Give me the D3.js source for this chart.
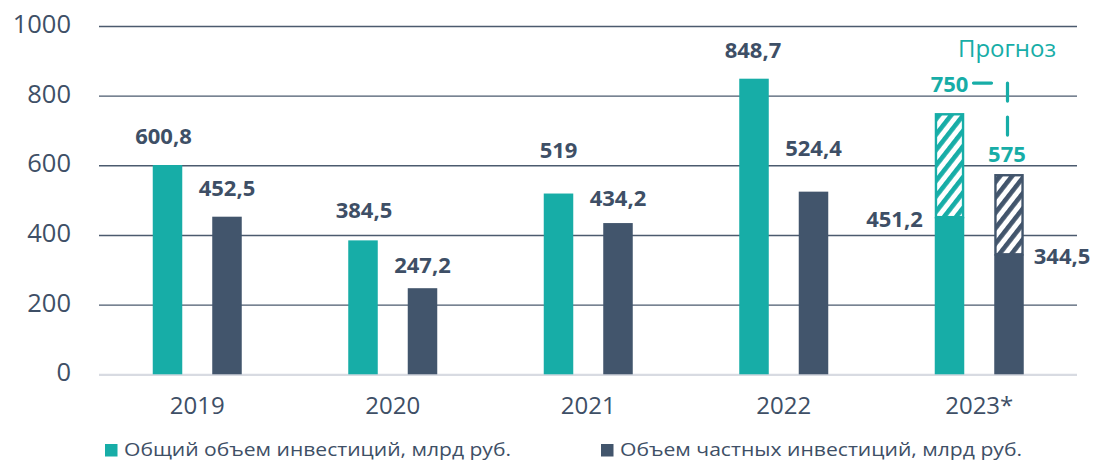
<!DOCTYPE html>
<html>
<head>
<meta charset="utf-8">
<script src="https://cdn.jsdelivr.net/npm/d3@7"></script>
<style>
  body { margin: 0; background: #fff; }
  svg { display: block; font-family: "Open Sans", sans-serif; }
</style>
</head>
<body>
<svg id="chart" width="1093" height="462"></svg>
<script>
// data
const years = ["2019", "2020", "2021", "2022", "2023*"];
const totalInvest = [600.8, 384.5, 519, 848.7, 451.2];
const privateInvest = [452.5, 247.2, 434.2, 524.4, 344.5];
const forecastTotal = [null, null, null, null, 750];
const forecastPrivate = [null, null, null, null, 575];
const yTicks = [0, 200, 400, 600, 800, 1000];
const seriesKeys = ["total", "private"];
const seriesNames = ["Общий объем инвестиций, млрд руб.", "Объем частных инвестиций, млрд руб."];
const forecastLabel = "Прогноз";

// label placement (dx from bar centre, dy from bar top to text centre)
const totalLabelPos = [[-4, -29], [1, -30], [0, -43], [-1, -28], ["left", 2]];
const privateLabelPos = [[0, -28], [0, -23], [0, -25], [0, -43], ["right", 2]];

const teal = "#17ada7";
const slate = "#42556c";
const textCol = "#3e4f66";

const svg = d3.select("#chart");

const x = d3.scaleBand().domain(years).range([99.5, 1077]);
const x1 = d3.scaleBand().domain(seriesKeys)
    .range([x.bandwidth() / 2 - 44.5, x.bandwidth() / 2 + 44.5])
    .paddingInner(0.504);
const y = d3.scaleLinear().domain([0, 1000]).range([374.3, 26]);

const fmt = v => String(v).replace(".", ",");

// hatch patterns
const defs = svg.append("defs");
[["hatch-total", teal], ["hatch-private", slate]].forEach(([id, c]) => {
    const p = defs.append("pattern")
        .attr("id", id)
        .attr("patternUnits", "userSpaceOnUse")
        .attr("width", 9.5).attr("height", 9.5)
        .attr("patternTransform", "rotate(38)");
    p.append("rect").attr("width", 9.5).attr("height", 9.5).attr("fill", "#fff");
    p.append("rect").attr("width", 4.6).attr("height", 9.5).attr("fill", c);
});

// y axis + gridlines
const yAxis = svg.append("g")
    .attr("transform", "translate(99,0)")
    .call(d3.axisLeft(y).tickValues(yTicks).tickFormat(d3.format("d")).tickSize(-978).tickPadding(28));
yAxis.select(".domain").remove();
yAxis.selectAll(".tick line")
    .attr("stroke", d => d === 0 ? "#d8dbe2" : "#4b5a6e")
    .attr("stroke-width", d => d === 0 ? 2.2 : 1.4);
yAxis.selectAll(".tick text")
    .attr("fill", textCol)
    .attr("font-size", 25.5)
    .attr("font-family", "'Open Sans', sans-serif")
    .attr("dy", "0.26em");

// x axis labels
const xAxis = svg.append("g")
    .attr("transform", "translate(0," + y(0) + ")")
    .call(d3.axisBottom(x).tickSize(0));
xAxis.select(".domain").remove();
xAxis.selectAll(".tick text")
    .attr("y", 40)
    .attr("dy", 0)
    .attr("fill", textCol)
    .attr("font-size", 24)
    .attr("font-family", "'Open Sans', sans-serif");

// bars
const groups = svg.append("g").selectAll("g")
    .data(years)
    .join("g")
    .attr("transform", d => "translate(" + x(d) + ",0)");

const series = [
    { key: "total", values: totalInvest, forecast: forecastTotal, color: teal, hatch: "hatch-total", pos: totalLabelPos },
    { key: "private", values: privateInvest, forecast: forecastPrivate, color: slate, hatch: "hatch-private", pos: privateLabelPos }
];

series.forEach(s => {
    groups.append("rect")
        .attr("x", (d, i) => x1(s.key))
        .attr("y", (d, i) => y(s.values[i]))
        .attr("width", x1.bandwidth())
        .attr("height", (d, i) => y(0) - y(s.values[i]))
        .attr("fill", s.color);

    // forecast part
    groups.filter((d, i) => s.forecast[i] != null)
        .append("rect")
        .attr("x", x1(s.key) + 1.2)
        .attr("y", d => y(s.forecast[years.indexOf(d)]) + 1.2)
        .attr("width", x1.bandwidth() - 2.4)
        .attr("height", d => y(s.values[years.indexOf(d)]) - y(s.forecast[years.indexOf(d)]) - 1.2)
        .attr("fill", "url(#" + s.hatch + ")")
        .attr("stroke", s.color)
        .attr("stroke-width", 2.4);

    // value labels
    groups.append("text")
        .attr("x", (d, i) => {
            const p = s.pos[i][0];
            if (p === "left") return x1(s.key) - 12;
            if (p === "right") return x1(s.key) + x1.bandwidth() + 10;
            return x1(s.key) + x1.bandwidth() / 2 + p;
        })
        .attr("y", (d, i) => y(s.values[i]) + s.pos[i][1] + 7.8)
        .attr("text-anchor", (d, i) => s.pos[i][0] === "left" ? "end" : s.pos[i][0] === "right" ? "start" : "middle")
        .attr("font-size", 22)
        .attr("font-weight", 700)
        .attr("fill", textCol)
        .text((d, i) => fmt(s.values[i]));
});

// forecast annotation
const last = years[years.length - 1];
const li = years.length - 1;
const tCx = x(last) + x1("total") + x1.bandwidth() / 2;
const pCx = x(last) + x1("private") + x1.bandwidth() / 2;
const ann = svg.append("g");
ann.append("text")
    .attr("x", tCx).attr("y", y(forecastTotal[li]) - 29 + 7.8)
    .attr("text-anchor", "middle")
    .attr("font-size", 22).attr("font-weight", 700)
    .attr("fill", teal)
    .text(fmt(forecastTotal[li]));
ann.append("text")
    .attr("x", pCx - 2).attr("y", y(forecastPrivate[li]) - 20 + 7.8)
    .attr("text-anchor", "middle")
    .attr("font-size", 22).attr("font-weight", 700)
    .attr("fill", teal)
    .text(fmt(forecastPrivate[li]));
const hy = y(forecastTotal[li]) - 30;
ann.append("path")
    .attr("d", "M" + (tCx + 24) + "," + hy + "H" + (pCx - 1.5) + "V" + (y(forecastPrivate[li]) - 37))
    .attr("fill", "none")
    .attr("stroke", teal)
    .attr("stroke-width", 3.2)
    .attr("stroke-linecap", "round")
    .attr("stroke-dasharray", "18,16");
ann.append("text")
    .attr("x", pCx - 2).attr("y", 56.5)
    .attr("text-anchor", "middle")
    .attr("font-size", 24)
    .attr("fill", teal)
    .text(forecastLabel);

// legend
const legend = svg.append("g");
const legX = [105, 601];
const legLen = [387, 402];
series.forEach((s, i) => {
    legend.append("rect")
        .attr("x", legX[i]).attr("y", 444)
        .attr("width", 12.5).attr("height", 12.5)
        .attr("fill", s.color);
    legend.append("text")
        .attr("x", legX[i] + 19).attr("y", 456)
        .attr("font-size", 19)
        .attr("fill", textCol)
        .attr("textLength", legLen[i])
        .attr("lengthAdjust", "spacingAndGlyphs")
        .text(seriesNames[i]);
});
</script>
</body>
</html>
